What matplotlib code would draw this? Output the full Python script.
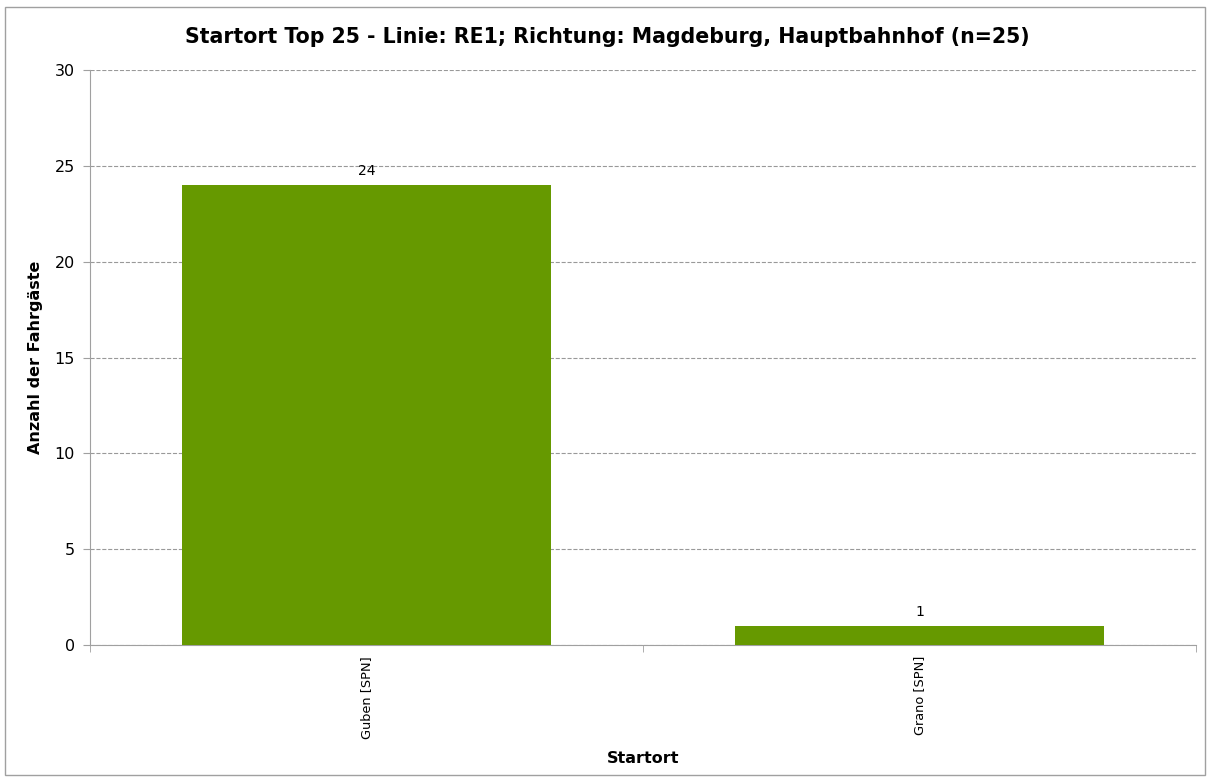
import matplotlib
matplotlib.use("Agg")
import matplotlib.pyplot as plt
from matplotlib.patches import Rectangle

# Daten
startorte = ["Guben [SPN]", "Grano [SPN]"]
fahrgaeste = [24, 1]
y_ticks = [0, 5, 10, 15, 20, 25, 30]

titel = "Startort Top 25 - Linie: RE1; Richtung: Magdeburg, Hauptbahnhof (n=25)"
gruen = "#669900"
grau = "#a0a0a0"

plt.rcParams['font.family'] = ['DejaVu Sans']

fig = plt.figure(figsize=(12.11, 7.81), dpi=100)
ax = fig.add_axes([90/1211, 1-645/781, (1196-90)/1211, (645-70)/781])

# Rahmen um das ganze Diagramm
fig.patches.append(Rectangle((5/1211, 1-775/781), 1200/1211, 768/781,
                             transform=fig.transFigure, fill=False,
                             edgecolor=grau, linewidth=1))

pos = list(range(len(startorte)))
balken = ax.bar(pos, fahrgaeste, width=0.666, color=gruen, zorder=3)
for b, v in zip(balken, fahrgaeste):
    ax.text(b.get_x() + b.get_width()/2, v + 0.35, str(v),
            ha='center', va='bottom', fontsize=10, zorder=4)

ax.set_xlim(-0.5, len(startorte) - 0.5)
ax.set_ylim(0, 30)
ax.set_yticks(y_ticks)
ax.tick_params(axis='y', labelsize=11.5, length=5, color=grau, pad=6)

# Kategorien-Beschriftung und Trennstriche zwischen den Kategorien
ax.set_xticks(pos)
ax.set_xticklabels(startorte, rotation=90, fontsize=9.3)
ax.tick_params(axis='x', length=0, pad=8)
ax.set_xticks([p + 0.5 for p in [-1] + pos], minor=True)
ax.tick_params(axis='x', which='minor', length=5, color=grau)

ax.grid(axis='y', linestyle='--', color='#999999', linewidth=0.8, zorder=0)
for s in ['top', 'right']:
    ax.spines[s].set_visible(False)
for s in ['left', 'bottom']:
    ax.spines[s].set_color(grau)

ax.set_ylabel("Anzahl der Fahrgäste", fontsize=11.5, fontweight='bold', labelpad=8)
ax.set_xlabel("Startort", fontsize=11.5, fontweight='bold', labelpad=9)
fig.text(607/1211, 1 - 37/781, titel, ha='center', va='center',
         fontsize=14.8, fontweight='bold')

fig.savefig("out.png", dpi=100)
